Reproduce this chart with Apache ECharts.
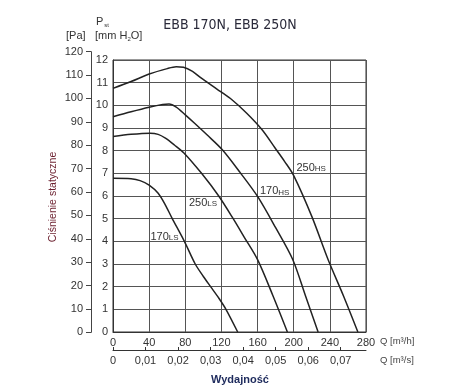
<!DOCTYPE html>
<html>
<head>
<meta charset="utf-8">
<script src="https://cdn.jsdelivr.net/npm/echarts@6/dist/echarts.min.js"></script>
<style>html,body{margin:0;padding:0;background:#fff}#c{width:460px;height:387px}</style>
</head>
<body>
<div id="c"></div>
<script>
// Curve data: Q [m3/h] and static pressure [mm H2O]
const q250HS = [0,20,40,60,70,78,88,97,115,130,148,165,179,190,200,220,238,255,271];
const p250HS = [10.75,11.05,11.38,11.62,11.7,11.68,11.5,11.22,10.72,10.3,9.65,8.92,8.14,7.52,6.9,5.1,3.2,1.6,0];
const q170HS = [0,20,40,55,62,70,80,90,104,121,141,160,180,199,213,227];
const p170HS = [9.5,9.72,9.92,10.04,10.06,9.92,9.58,9.22,8.7,8.04,7.02,5.98,4.6,3.19,1.6,0];
const q250LS = [0,20,41,50,58,68,78.5,98,117,133,145,160,177,193];
const p250LS = [8.62,8.72,8.77,8.72,8.55,8.25,7.9,7.0,6.0,5.0,4.2,3.19,1.6,0];
const q170LS = [0,20,30,40,50,58,65,79,91,100,108,117,125,138];
const p170LS = [6.78,6.76,6.68,6.48,6.12,5.6,5.05,4.0,3.0,2.45,2.0,1.5,1.0,0];

const seriesNames = ['250HS','170HS','250LS','170LS'];
// label anchor (Q, mm H2O) for each curve name
const labelAnchors = [[203,7.24],[162.6,6.2],[84,5.7],[41.4,4.2]];

const qsValues = [0,0.01,0.02,0.03,0.04,0.05,0.06,0.07];
const qsLabels = ['0','0,01','0,02','0,03','0,04','0,05','0,06','0,07'];

const curves = [[q250HS,p250HS],[q170HS,p170HS],[q250LS,p250LS],[q170LS,p170LS]];

const chart = echarts.init(document.getElementById('c'), null, {renderer:'canvas'});
const font = 'Liberation Sans, Arial, sans-serif';
const txt = '#333';

const series = curves.map((c,i)=>({
  type:'line', name: seriesNames[i], xAxisIndex:0, yAxisIndex:0,
  data: c[0].map((q,k)=>[q,c[1][k]]),
  showSymbol:false, smooth:0.3,
  lineStyle:{color:'#222', width:1.5}, silent:true,
  markPoint:{
    symbol:'circle', symbolSize:0,
    data:[{coord:labelAnchors[i]}],
    label:{show:true, position:'right', distance:0,
      formatter:'{a|'+seriesNames[i].slice(0,3)+'}{b|'+seriesNames[i].slice(3)+'}',
      rich:{a:{fontSize:11,color:'#333',fontFamily:font},b:{fontSize:8,color:'#333',fontFamily:font,padding:[2,0,0,0]}}}
  }
}));

chart.setOption({
  animation:false,
  title:{text:'EBB 170N, EBB 250N', left:'center', top:13,
    textStyle:{fontFamily:'Liberation Sans Narrow, DejaVu Sans Condensed, DejaVu Sans', fontWeight:'normal', fontSize:14, color:'#2a2a3a'}},
  grid:[
    {left:113, top:60, width:253, height:272, show:true, borderColor:'#333', borderWidth:1},
    {left:91, top:51.7, width:1, height:280.6}
  ],
  xAxis:[
    {type:'value', gridIndex:0, min:0, max:280, interval:40, position:'bottom',
     axisLine:{show:true, lineStyle:{color:'#333'}}, axisTick:{show:false},
     axisLabel:{margin:5, fontSize:11, color:txt, fontFamily:font},
     splitLine:{show:true, lineStyle:{color:'#555', width:1}}},
    {type:'value', gridIndex:0, min:0, max:280/3600, position:'bottom', offset:18,
     axisLine:{show:true, lineStyle:{color:'#333'}},
     axisTick:{show:true, inside:true, length:3, lineStyle:{color:'#333'}, customValues:qsValues},
     axisLabel:{customValues:qsValues, margin:5, fontSize:11, color:txt, fontFamily:font,
       formatter:(v)=>{const i=qsValues.findIndex(x=>Math.abs(x-v)<1e-9); return i>=0?qsLabels[i]:'';}},
     splitLine:{show:false}},
    {type:'value', gridIndex:1, show:false, min:0, max:1}
  ],
  yAxis:[
    {type:'value', gridIndex:0, min:0, max:12, interval:1,
     axisLine:{show:true, lineStyle:{color:'#333'}}, axisTick:{show:false},
     axisLabel:{margin:5, fontSize:11, color:txt, fontFamily:font},
     splitLine:{show:true, lineStyle:{color:'#555', width:1}}},
    {type:'value', gridIndex:1, min:0, max:120, interval:10, position:'left',
     axisLine:{show:true, lineStyle:{color:'#444'}},
     axisTick:{show:true, length:5, lineStyle:{color:'#444'}},
     axisLabel:{margin:8, fontSize:11, color:txt, fontFamily:font},
     splitLine:{show:false}}
  ],
  series: series,
  graphic:[
    {type:'text', left:96, top:16, style:{text:'{p|P}{s|st}', rich:{p:{fontSize:11,fill:txt,fontFamily:font},s:{fontSize:6,fill:txt,fontFamily:font,padding:[7,0,0,1]}}}},
    {type:'text', left:66, top:30, style:{text:'[Pa]', fontSize:11, fill:txt, fontFamily:font}},
    {type:'text', left:95, top:30, style:{text:'{a|[mm H}{b|2}{a|O]}', rich:{a:{fontSize:11,fill:txt,fontFamily:font},b:{fontSize:6,fill:txt,fontFamily:font,padding:[7,0,0,0]}}}},
    {type:'text', x:53, y:197, rotation:Math.PI/2, style:{text:'Ciśnienie statyczne', fontSize:10.5, fill:'#6b1f2e', fontFamily:font, align:'center', verticalAlign:'middle'}},
    {type:'text', left:380, top:336, style:{text:'Q [m³/h]', fontSize:9.5, fill:'#444', fontFamily:font}},
    {type:'text', left:380, top:355, style:{text:'Q [m³/s]', fontSize:9.5, fill:'#444', fontFamily:font}},
    {type:'text', x:240, y:380, style:{text:'Wydajność', fontSize:11, fontWeight:'bold', fill:'#1d2a5c', fontFamily:font, align:'center', verticalAlign:'middle'}}
  ]
});
</script>
</body>
</html>
